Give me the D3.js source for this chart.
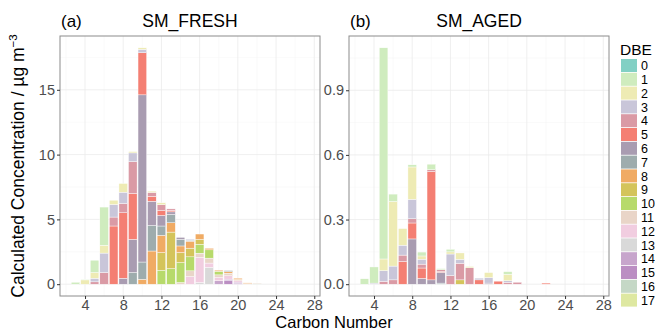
<!DOCTYPE html>
<html lang="en">
<head>
<meta charset="UTF-8">
<title>SM_FRESH / SM_AGED</title>
<style>
  body { margin: 0; background: #fff; }
  svg { display: block; font-family: "Liberation Sans", Arial, sans-serif; }
  .grid-major { stroke: #ebebeb; stroke-width: 0.8; }
  .grid-minor { stroke: #f5f5f5; stroke-width: 0.5; }
  .tick-label { fill: #4d4d4d; font-size: 14.5px; }
</style>
</head>
<body>
<svg id="chart" width="655" height="332"></svg>
<script src="https://d3js.org/d3.v7.min.js"></script>
<script>
// DBE classes and their fill colours
const dbeLevels = d3.range(0, 18);
const dbeColors = ["#82d0c4", "#cfecbe", "#eeebb4", "#c9c6d9", "#da9aa5", "#f47f73",
                   "#a99cb1", "#9eacad", "#f0ab64", "#d4c45b", "#b7da6b", "#e9d5c8",
                   "#f1cde0", "#d9d9d9", "#c7a5cc", "#bb8ec3", "#c5d8c6", "#dee8a1"];

const carbonNumbers = d3.range(3, 23);

// concentration per carbon number, one row per carbon, columns = DBE 0..17
const freshValues = [
  //0   1     2     3     4     5     6     7     8     9     10    11    12    13    14    15    16    17
  [0, 0.15, 0,    0,    0,    0,    0,    0,    0,    0,    0,    0,    0,    0,    0,    0,    0,    0],    // 3
  [0, 0.05, 0.33, 0,    0,    0,    0,    0,    0,    0,    0,    0,    0,    0,    0,    0,    0,    0],    // 4
  [0, 0.95, 0.44, 0.28, 0.18, 0,    0,    0,    0,    0,    0,    0,    0,    0,    0,    0,    0,    0],    // 5
  [0, 2.95, 0.6,  1.5,  0.9,  0,    0,    0,    0,    0,    0,    0,    0,    0,    0,    0,    0,    0],    // 6
  [0, 0,    0.33, 0.97, 0.69, 4.49, 0,    0,    0,    0,    0,    0,    0,    0,    0,    0,    0,    0],    // 7
  [0, 0,    0.67, 0.87, 0.72, 5.05, 0.46, 0,    0,    0,    0,    0,    0,    0,    0,    0,    0,    0],    // 8
  [0, 0,    0.1,  0.67, 2.46, 3.54, 2.56, 0.9,  0,    0,    0,    0,    0,    0,    0,    0,    0,    0],    // 9
  [0, 0,    0.12, 0.26, 0,    3.25, 12.9, 1.33, 0.38, 0,    0,    0,    0,    0,    0,    0,    0,    0],    // 10
  [0, 0,    0.1,  0,    0.3,  0.38, 1.87, 1.97, 2.56, 0,    0,    0,    0,    0,    0,    0,    0,    0],    // 11
  [0, 0,    0.15, 0,    0.44, 0.38, 0.82, 0.72, 1.33, 1.36, 1.08, 0,    0,    0,    0,    0,    0,    0],    // 12
  [0, 0,    0,    0,    0.12, 0.11, 0.2,  0.64, 0.72, 2.82, 1.2,  0,    0,    0,    0,    0,    0,    0],    // 13
  [0, 0,    0,    0,    0,    0,    0.15, 0.51, 0.51, 0.77, 1.54, 0.13, 0,    0,    0,    0,    0,    0],    // 14
  [0, 0,    0,    0.08, 0,    0,    0,    0.07, 0.54, 0.67, 1.08, 0.44, 0.59, 0,    0,    0,    0,    0],    // 15
  [0, 0,    0,    0,    0,    0,    0,    0,    0.41, 0.38, 0.69, 0.31, 1.95, 0.13, 0,    0,    0,    0],    // 16
  [0, 0,    0,    0,    0,    0,    0,    0,    0.12, 0,    0.64, 0.38, 0.33, 1.3,  0,    0,    0,    0],    // 17
  [0, 0,    0,    0,    0,    0,    0,    0,    0.08, 0,    0.28, 0.2,  0.26, 0,    0.26, 0,    0,    0],    // 18
  [0, 0,    0,    0,    0,    0,    0,    0.08, 0.12, 0,    0,    0.2,  0.26, 0,    0.13, 0.26, 0,    0],    // 19
  [0, 0,    0,    0,    0,    0,    0,    0,    0.1,  0,    0,    0.1,  0.1,  0,    0.08, 0.08, 0,    0],    // 20
  [0, 0,    0,    0,    0,    0,    0,    0,    0.05, 0,    0,    0.05, 0,    0,    0,    0,    0,    0],    // 21
  [0, 0,    0,    0,    0,    0,    0,    0,    0,    0,    0,    0.04, 0,    0,    0,    0,    0.04, 0]     // 22
];

const agedValues = [
  //0   1      2      3      4      5      6      7      8  9     10 11 12 13 14 15 16 17
  [0, 0.025, 0,     0,     0,     0,     0,     0,     0, 0,    0, 0, 0, 0, 0, 0, 0, 0],   // 3
  [0, 0.075, 0,     0.005, 0,     0,     0,     0,     0, 0,    0, 0, 0, 0, 0, 0, 0, 0],   // 4
  [0, 0.98,  0.054, 0.05,  0.013, 0,     0,     0,     0, 0,    0, 0, 0, 0, 0, 0, 0, 0],   // 5
  [0, 0.034, 0.3,   0.064, 0.02,  0,     0,     0,     0, 0,    0, 0, 0, 0, 0, 0, 0, 0],   // 6
  [0, 0,     0.077, 0.046, 0.03,  0.105, 0,     0,     0, 0,    0, 0, 0, 0, 0, 0, 0, 0],   // 7
  [0, 0.01,  0.15,  0.09,  0.02,  0.074, 0.21,  0,     0, 0,    0, 0, 0, 0, 0, 0, 0, 0],   // 8
  [0, 0.018, 0.015, 0.023, 0.018, 0.048, 0.027, 0,     0, 0,    0, 0, 0, 0, 0, 0, 0, 0],   // 9
  [0, 0.026, 0,     0,     0.008, 0.503, 0.02,  0,     0, 0,    0, 0, 0, 0, 0, 0, 0, 0],   // 10
  [0, 0.005, 0,     0,     0.008, 0.004, 0.05,  0.005, 0, 0,    0, 0, 0, 0, 0, 0, 0, 0],   // 11
  [0, 0.012, 0.01,  0.1,   0.04,  0,     0,     0,     0, 0,    0, 0, 0, 0, 0, 0, 0, 0],   // 12
  [0, 0,     0.03,  0.018, 0.077, 0,     0,     0,     0, 0.02, 0, 0, 0, 0, 0, 0, 0, 0],   // 13
  [0, 0,     0.006, 0,     0.076, 0,     0,     0,     0, 0,    0, 0, 0, 0, 0, 0, 0, 0],   // 14
  [0, 0,     0,     0.008, 0,     0.02,  0,     0,     0, 0,    0, 0, 0, 0, 0, 0, 0, 0],   // 15
  [0, 0,     0.023, 0.026, 0,     0,     0.005, 0,     0, 0,    0, 0, 0, 0, 0, 0, 0, 0],   // 16
  [0, 0,     0,     0,     0,     0.014, 0,     0,     0, 0,    0, 0, 0, 0, 0, 0, 0, 0],   // 17
  [0, 0.012, 0.03,  0.008, 0.008, 0,     0,     0,     0, 0,    0, 0, 0, 0, 0, 0, 0, 0],   // 18
  [0, 0,     0,     0,     0.009, 0,     0,     0,     0, 0,    0, 0, 0, 0, 0, 0, 0, 0],   // 19
  [0, 0,     0,     0,     0,     0,     0,     0,     0, 0,    0, 0, 0, 0, 0, 0, 0, 0],   // 20
  [0, 0,     0,     0,     0,     0,     0,     0,     0, 0,    0, 0, 0, 0, 0, 0, 0, 0],   // 21
  [0, 0,     0,     0,     0,     0.005, 0,     0,     0, 0,    0, 0, 0, 0, 0, 0, 0, 0]    // 22
];

const xTicks = [4, 8, 12, 16, 20, 24, 28];
const xMinorTicks = [2, 6, 10, 14, 18, 22, 26];
const freshYTicks = [0, 5, 10, 15];
const agedYTicks = [0, 0.3, 0.6, 0.9];

const panels = [
  { tag: "(a)", title: "SM_FRESH", values: freshValues, ticks: freshYTicks, fmt: d3.format("d"), left: 60 },
  { tag: "(b)", title: "SM_AGED", values: agedValues, ticks: agedYTicks, fmt: d3.format(".1f"), left: 349 }
];

const svg = d3.select("#chart");
const panelTop = 36, panelBottom = 296, panelWidth = 260;
const barWidth = 0.9;

panels.forEach(p => {
  // stack: highest DBE at the bottom (ggplot default order)
  const rows = p.values.map((r, i) => {
    const o = { carbon: carbonNumbers[i] };
    dbeLevels.forEach(k => o[k] = r[k]);
    return o;
  });
  const stack = d3.stack().keys(dbeLevels.slice().reverse())(rows);
  const maxY = d3.max(rows, r => d3.sum(dbeLevels, k => r[k]));

  const x = d3.scaleLinear().domain([1.38, 28.6]).range([p.left, p.left + panelWidth]);
  const y = d3.scaleLinear().domain([-0.05 * maxY, maxY * 1.05]).range([panelBottom, panelTop]);
  const step = p.ticks[1] - p.ticks[0];
  const yMinor = d3.range(step / 2, maxY * 1.05, step);

  const g = svg.append("g");

  g.selectAll(".gxm").data(xMinorTicks).join("line").attr("class", "grid-minor")
    .attr("x1", d => x(d)).attr("x2", d => x(d)).attr("y1", panelTop).attr("y2", panelBottom);
  g.selectAll(".gym").data(yMinor).join("line").attr("class", "grid-minor")
    .attr("x1", p.left).attr("x2", p.left + panelWidth).attr("y1", d => y(d)).attr("y2", d => y(d));
  g.selectAll(".gx").data(xTicks).join("line").attr("class", "grid-major")
    .attr("x1", d => x(d)).attr("x2", d => x(d)).attr("y1", panelTop).attr("y2", panelBottom);
  g.selectAll(".gy").data(p.ticks).join("line").attr("class", "grid-major")
    .attr("x1", p.left).attr("x2", p.left + panelWidth).attr("y1", d => y(d)).attr("y2", d => y(d));

  g.selectAll(".layer").data(stack).join("g")
    .attr("fill", d => dbeColors[d.key])
    .selectAll("rect").data(d => d.filter(s => s[1] - s[0] > 0)).join("rect")
    .attr("x", d => x(d.data.carbon - barWidth / 2))
    .attr("width", x(barWidth) - x(0))
    .attr("y", d => y(d[1]))
    .attr("height", d => y(d[0]) - y(d[1]))
    .attr("stroke", "#fff").attr("stroke-width", 0.4);

  g.append("rect").attr("x", p.left).attr("y", panelTop).attr("width", panelWidth)
    .attr("height", panelBottom - panelTop).attr("fill", "none").attr("stroke", "#8c8c8c").attr("stroke-width", 1);

  // axes
  const xAxis = g.append("g").attr("transform", `translate(0,${panelBottom})`)
    .call(d3.axisBottom(x).tickValues(xTicks).tickSize(3).tickPadding(2));
  const yAxis = g.append("g").attr("transform", `translate(${p.left},0)`)
    .call(d3.axisLeft(y).tickValues(p.ticks).tickFormat(p.fmt).tickSize(3).tickPadding(2));
  [xAxis, yAxis].forEach(a => {
    a.select(".domain").remove();
    a.selectAll(".tick line").attr("stroke", "#333");
    a.selectAll(".tick text").attr("class", "tick-label").attr("font-family", null).attr("font-size", null);
  });
  xAxis.selectAll(".tick text").attr("dy", "0.62em");

  g.append("text").attr("x", p.left + 1).attr("y", 27).attr("font-size", 17).text(p.tag);
  g.append("text").attr("x", p.left + panelWidth / 2).attr("y", 27).attr("text-anchor", "middle")
    .attr("font-size", 17.5).text(p.title);
});

// axis titles
svg.append("text").attr("x", 334).attr("y", 328).attr("text-anchor", "middle")
  .attr("font-size", 16.5).text("Carbon Number");

const yt = svg.append("text").attr("transform", "translate(24,166) rotate(-90)")
  .attr("text-anchor", "middle").attr("font-size", 17.5);
yt.append("tspan").text("Calculated Concentration / \u00b5g m");
yt.append("tspan").attr("font-size", 11.5).attr("dy", -7).text("\u22123");

// legend
const legend = svg.append("g").attr("transform", "translate(620,0)");
legend.append("text").attr("x", 0).attr("y", 55).attr("font-size", 15.5).text("DBE");
const keyH = 13.8;
const items = legend.selectAll(".item").data(dbeLevels).join("g")
  .attr("transform", (d, i) => `translate(0,${59 + i * keyH})`);
items.append("rect").attr("x", 1).attr("width", 16).attr("height", keyH - 0.8)
  .attr("fill", d => dbeColors[d]);
items.append("text").attr("x", 21).attr("y", keyH / 2 + 4.3).attr("font-size", 12.5).text(d => d);
</script>
</body>
</html>
